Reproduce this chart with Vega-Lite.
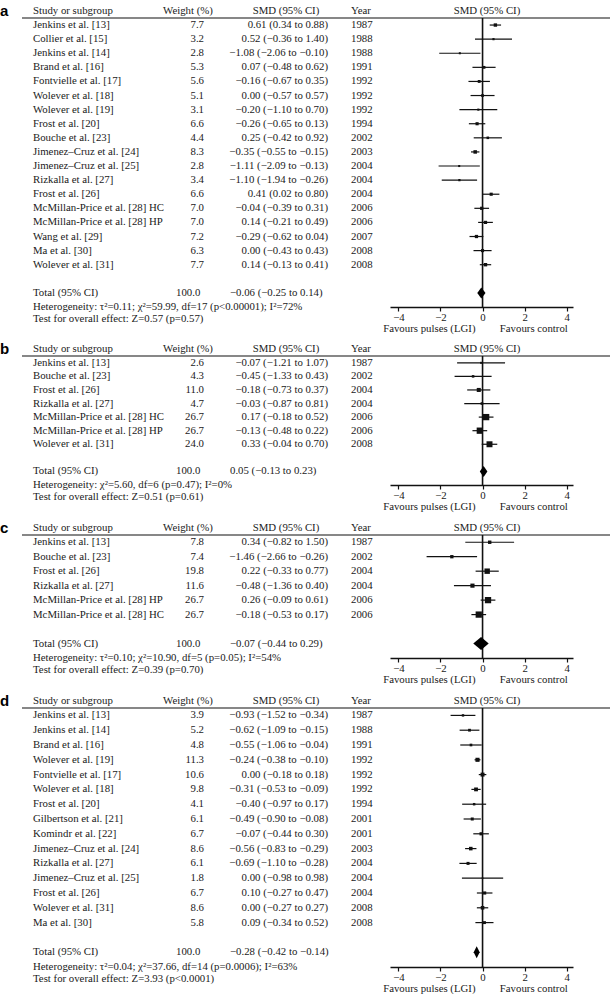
{
  "$schema": "https://vega.github.io/schema/vega-lite/v6.json",
  "background": "white",
  "padding": {"top": 3, "left": 0, "right": 0, "bottom": 0},
  "spacing": 8,
  "config": {
    "view": {"stroke": null},
    "text": {"font": "Liberation Serif", "fontSize": 10.8, "color": "#1a1a1a", "baseline": "middle"},
    "axisX": {"format": "d", "grid": false, "domainColor": "#111", "domainWidth": 1.5, "tickColor": "#111", "tickWidth": 1.2, "tickSize": 4, "labelFont": "Liberation Serif", "labelFontSize": 10.8, "labelColor": "#1a1a1a", "labelPadding": 0, "titleFont": "Liberation Serif", "titleFontSize": 10.8, "titleFontWeight": "normal", "titleColor": "#1a1a1a", "titlePadding": 1}
  },
  "resolve": {"scale": {"x": "independent", "y": "independent"}},
  "datasets": {
    "a": [
      {"r": 1, "kind": "s", "study": "Jenkins et al. [13]", "w": 7.7, "smd": 0.61, "lo": 0.34, "hi": 0.88, "ci": "0.61 (0.34 to 0.88)", "year": "1987"},
      {"r": 2, "kind": "s", "study": "Collier et al. [15]", "w": 3.2, "smd": 0.52, "lo": -0.36, "hi": 1.40, "ci": "0.52 (−0.36 to 1.40)", "year": "1988"},
      {"r": 3, "kind": "s", "study": "Jenkins et al. [14]", "w": 2.8, "smd": -1.08, "lo": -2.06, "hi": -0.10, "ci": "−1.08 (−2.06 to −0.10)", "year": "1988"},
      {"r": 4, "kind": "s", "study": "Brand et al. [16]", "w": 5.3, "smd": 0.07, "lo": -0.48, "hi": 0.62, "ci": "0.07 (−0.48 to 0.62)", "year": "1991"},
      {"r": 5, "kind": "s", "study": "Fontvielle et al. [17]", "w": 5.6, "smd": -0.16, "lo": -0.67, "hi": 0.35, "ci": "−0.16 (−0.67 to 0.35)", "year": "1992"},
      {"r": 6, "kind": "s", "study": "Wolever et al. [18]", "w": 5.1, "smd": 0.00, "lo": -0.57, "hi": 0.57, "ci": "0.00 (−0.57 to 0.57)", "year": "1992"},
      {"r": 7, "kind": "s", "study": "Wolever et al. [19]", "w": 3.1, "smd": -0.20, "lo": -1.10, "hi": 0.70, "ci": "−0.20 (−1.10 to 0.70)", "year": "1992"},
      {"r": 8, "kind": "s", "study": "Frost et al. [20]", "w": 6.6, "smd": -0.26, "lo": -0.65, "hi": 0.13, "ci": "−0.26 (−0.65 to 0.13)", "year": "1994"},
      {"r": 9, "kind": "s", "study": "Bouche et al. [23]", "w": 4.4, "smd": 0.25, "lo": -0.42, "hi": 0.92, "ci": "0.25 (−0.42 to 0.92)", "year": "2002"},
      {"r": 10, "kind": "s", "study": "Jimenez–Cruz et al. [24]", "w": 8.3, "smd": -0.35, "lo": -0.55, "hi": -0.15, "ci": "−0.35 (−0.55 to −0.15)", "year": "2003"},
      {"r": 11, "kind": "s", "study": "Jimenez–Cruz et al. [25]", "w": 2.8, "smd": -1.11, "lo": -2.09, "hi": -0.13, "ci": "−1.11 (−2.09 to −0.13)", "year": "2004"},
      {"r": 12, "kind": "s", "study": "Rizkalla et al. [27]", "w": 3.4, "smd": -1.10, "lo": -1.94, "hi": -0.26, "ci": "−1.10 (−1.94 to −0.26)", "year": "2004"},
      {"r": 13, "kind": "s", "study": "Frost et al. [26]", "w": 6.6, "smd": 0.41, "lo": 0.02, "hi": 0.80, "ci": "0.41 (0.02 to 0.80)", "year": "2004"},
      {"r": 14, "kind": "s", "study": "McMillan-Price et al. [28] HC", "w": 7.0, "smd": -0.04, "lo": -0.39, "hi": 0.31, "ci": "−0.04 (−0.39 to 0.31)", "year": "2006"},
      {"r": 15, "kind": "s", "study": "McMillan-Price et al. [28] HP", "w": 7.0, "smd": 0.14, "lo": -0.21, "hi": 0.49, "ci": "0.14 (−0.21 to 0.49)", "year": "2006"},
      {"r": 16, "kind": "s", "study": "Wang et al. [29]", "w": 7.2, "smd": -0.29, "lo": -0.62, "hi": 0.04, "ci": "−0.29 (−0.62 to 0.04)", "year": "2007"},
      {"r": 17, "kind": "s", "study": "Ma et al. [30]", "w": 6.3, "smd": 0.00, "lo": -0.43, "hi": 0.43, "ci": "0.00 (−0.43 to 0.43)", "year": "2008"},
      {"r": 18, "kind": "s", "study": "Wolever et al. [31]", "w": 7.7, "smd": 0.14, "lo": -0.13, "hi": 0.41, "ci": "0.14 (−0.13 to 0.41)", "year": "2008"},
      {"r": 20, "kind": "t", "study": "Total (95% CI)", "w": 100.0, "smd": -0.06, "lo": -0.25, "hi": 0.14, "ci": "−0.06 (−0.25 to 0.14)", "year": ""}
    ],
    "b": [
      {"r": 1, "kind": "s", "study": "Jenkins et al. [13]", "w": 2.6, "smd": -0.07, "lo": -1.21, "hi": 1.07, "ci": "−0.07 (−1.21 to 1.07)", "year": "1987"},
      {"r": 2, "kind": "s", "study": "Bouche et al. [23]", "w": 4.3, "smd": -0.45, "lo": -1.33, "hi": 0.43, "ci": "−0.45 (−1.33 to 0.43)", "year": "2002"},
      {"r": 3, "kind": "s", "study": "Frost et al. [26]", "w": 11.0, "smd": -0.18, "lo": -0.73, "hi": 0.37, "ci": "−0.18 (−0.73 to 0.37)", "year": "2004"},
      {"r": 4, "kind": "s", "study": "Rizkalla et al. [27]", "w": 4.7, "smd": -0.03, "lo": -0.87, "hi": 0.81, "ci": "−0.03 (−0.87 to 0.81)", "year": "2004"},
      {"r": 5, "kind": "s", "study": "McMillan-Price et al. [28] HC", "w": 26.7, "smd": 0.17, "lo": -0.18, "hi": 0.52, "ci": "0.17 (−0.18 to 0.52)", "year": "2006"},
      {"r": 6, "kind": "s", "study": "McMillan-Price et al. [28] HP", "w": 26.7, "smd": -0.13, "lo": -0.48, "hi": 0.22, "ci": "−0.13 (−0.48 to 0.22)", "year": "2006"},
      {"r": 7, "kind": "s", "study": "Wolever et al. [31]", "w": 24.0, "smd": 0.33, "lo": -0.04, "hi": 0.70, "ci": "0.33 (−0.04 to 0.70)", "year": "2008"},
      {"r": 9, "kind": "t", "study": "Total (95% CI)", "w": 100.0, "smd": 0.05, "lo": -0.13, "hi": 0.23, "ci": "0.05 (−0.13 to 0.23)", "year": ""}
    ],
    "c": [
      {"r": 1, "kind": "s", "study": "Jenkins et al. [13]", "w": 7.8, "smd": 0.34, "lo": -0.82, "hi": 1.50, "ci": "0.34 (−0.82 to 1.50)", "year": "1987"},
      {"r": 2, "kind": "s", "study": "Bouche et al. [23]", "w": 7.4, "smd": -1.46, "lo": -2.66, "hi": -0.26, "ci": "−1.46 (−2.66 to −0.26)", "year": "2002"},
      {"r": 3, "kind": "s", "study": "Frost et al. [26]", "w": 19.8, "smd": 0.22, "lo": -0.33, "hi": 0.77, "ci": "0.22 (−0.33 to 0.77)", "year": "2004"},
      {"r": 4, "kind": "s", "study": "Rizkalla et al. [27]", "w": 11.6, "smd": -0.48, "lo": -1.36, "hi": 0.40, "ci": "−0.48 (−1.36 to 0.40)", "year": "2004"},
      {"r": 5, "kind": "s", "study": "McMillan-Price et al. [28] HP", "w": 26.7, "smd": 0.26, "lo": -0.09, "hi": 0.61, "ci": "0.26 (−0.09 to 0.61)", "year": "2006"},
      {"r": 6, "kind": "s", "study": "McMillan-Price et al. [28] HC", "w": 26.7, "smd": -0.18, "lo": -0.53, "hi": 0.17, "ci": "−0.18 (−0.53 to 0.17)", "year": "2006"},
      {"r": 8, "kind": "t", "study": "Total (95% CI)", "w": 100.0, "smd": -0.07, "lo": -0.44, "hi": 0.29, "ci": "−0.07 (−0.44 to 0.29)", "year": ""}
    ],
    "d": [
      {"r": 1, "kind": "s", "study": "Jenkins et al. [13]", "w": 3.9, "smd": -0.93, "lo": -1.52, "hi": -0.34, "ci": "−0.93 (−1.52 to −0.34)", "year": "1987"},
      {"r": 2, "kind": "s", "study": "Jenkins et al. [14]", "w": 5.2, "smd": -0.62, "lo": -1.09, "hi": -0.15, "ci": "−0.62 (−1.09 to −0.15)", "year": "1988"},
      {"r": 3, "kind": "s", "study": "Brand et al. [16]", "w": 4.8, "smd": -0.55, "lo": -1.06, "hi": -0.04, "ci": "−0.55 (−1.06 to −0.04)", "year": "1991"},
      {"r": 4, "kind": "s", "study": "Wolever et al. [19]", "w": 11.3, "smd": -0.24, "lo": -0.38, "hi": -0.10, "ci": "−0.24 (−0.38 to −0.10)", "year": "1992"},
      {"r": 5, "kind": "s", "study": "Fontvielle et al. [17]", "w": 10.6, "smd": 0.00, "lo": -0.18, "hi": 0.18, "ci": "0.00 (−0.18 to 0.18)", "year": "1992"},
      {"r": 6, "kind": "s", "study": "Wolever et al. [18]", "w": 9.8, "smd": -0.31, "lo": -0.53, "hi": -0.09, "ci": "−0.31 (−0.53 to −0.09)", "year": "1992"},
      {"r": 7, "kind": "s", "study": "Frost et al. [20]", "w": 4.1, "smd": -0.40, "lo": -0.97, "hi": 0.17, "ci": "−0.40 (−0.97 to 0.17)", "year": "1994"},
      {"r": 8, "kind": "s", "study": "Gilbertson et al. [21]", "w": 6.1, "smd": -0.49, "lo": -0.90, "hi": -0.08, "ci": "−0.49 (−0.90 to −0.08)", "year": "2001"},
      {"r": 9, "kind": "s", "study": "Komindr et al. [22]", "w": 6.7, "smd": -0.07, "lo": -0.44, "hi": 0.30, "ci": "−0.07 (−0.44 to 0.30)", "year": "2001"},
      {"r": 10, "kind": "s", "study": "Jimenez–Cruz et al. [24]", "w": 8.6, "smd": -0.56, "lo": -0.83, "hi": -0.29, "ci": "−0.56 (−0.83 to −0.29)", "year": "2003"},
      {"r": 11, "kind": "s", "study": "Rizkalla et al. [27]", "w": 6.1, "smd": -0.69, "lo": -1.10, "hi": -0.28, "ci": "−0.69 (−1.10 to −0.28)", "year": "2004"},
      {"r": 12, "kind": "s", "study": "Jimenez–Cruz et al. [25]", "w": 1.8, "smd": 0.00, "lo": -0.98, "hi": 0.98, "ci": "0.00 (−0.98 to 0.98)", "year": "2004"},
      {"r": 13, "kind": "s", "study": "Frost et al. [26]", "w": 6.7, "smd": 0.10, "lo": -0.27, "hi": 0.47, "ci": "0.10 (−0.27 to 0.47)", "year": "2004"},
      {"r": 14, "kind": "s", "study": "Wolever et al. [31]", "w": 8.6, "smd": 0.00, "lo": -0.27, "hi": 0.27, "ci": "0.00 (−0.27 to 0.27)", "year": "2008"},
      {"r": 15, "kind": "s", "study": "Ma et al. [30]", "w": 5.8, "smd": 0.09, "lo": -0.34, "hi": 0.52, "ci": "0.09 (−0.34 to 0.52)", "year": "2008"},
      {"r": 17, "kind": "t", "study": "Total (95% CI)", "w": 100.0, "smd": -0.28, "lo": -0.42, "hi": -0.14, "ci": "−0.28 (−0.42 to −0.14)", "year": ""}
    ]
  },
  "vconcat": [
    {
      "width": 610, "height": 289,
      "data": {"name": "a"},
      "encoding": {"y": {"field": "r", "type": "quantitative", "scale": {"domain": [0.5, 21], "reverse": true, "nice": false, "zero": false}, "axis": null}},
      "layer": [
        {"transform": [{"filter": "datum.kind === 't'"}], "mark": {"type": "text", "align": "left", "font": "Liberation Sans", "fontWeight": "bold", "fontSize": 15, "color": "#000"}, "encoding": {"x": {"value": 0}, "y": {"datum": 0}, "text": {"value": "a"}}},
        {"transform": [{"filter": "datum.kind === 't'"}], "mark": {"type": "text", "align": "left"}, "encoding": {"x": {"value": 33}, "y": {"datum": 0}, "text": {"value": "Study or subgroup"}}},
        {"transform": [{"filter": "datum.kind === 't'"}], "mark": {"type": "text", "align": "center"}, "encoding": {"x": {"value": 188}, "y": {"datum": 0}, "text": {"value": "Weight (%)"}}},
        {"transform": [{"filter": "datum.kind === 't'"}], "mark": {"type": "text", "align": "center"}, "encoding": {"x": {"value": 286}, "y": {"datum": 0}, "text": {"value": "SMD (95% CI)"}}},
        {"transform": [{"filter": "datum.kind === 't'"}], "mark": {"type": "text", "align": "left"}, "encoding": {"x": {"value": 351}, "y": {"datum": 0}, "text": {"value": "Year"}}},
        {"transform": [{"filter": "datum.kind === 't'"}], "mark": {"type": "text", "align": "center"}, "encoding": {"x": {"value": 487}, "y": {"datum": 0}, "text": {"value": "SMD (95% CI)"}}},
        {"transform": [{"filter": "datum.kind === 't'"}], "mark": {"type": "rule", "strokeWidth": 1.2, "color": "#111"}, "encoding": {"x": {"value": 22}, "x2": {"value": 610}, "y": {"datum": 0.5}}},
        {"mark": {"type": "text", "align": "left"}, "encoding": {"x": {"value": 33}, "text": {"field": "study"}}},
        {"transform": [{"filter": "datum.kind === 's'"}], "mark": {"type": "text", "align": "right"}, "encoding": {"x": {"value": 204}, "text": {"field": "w", "type": "quantitative", "format": ".1f"}}},
        {"transform": [{"filter": "datum.kind === 't'"}], "mark": {"type": "text", "align": "left"}, "encoding": {"x": {"value": 176}, "text": {"field": "w", "type": "quantitative", "format": ".1f"}}},
        {"transform": [{"filter": "datum.kind === 's'"}], "mark": {"type": "text", "align": "right"}, "encoding": {"x": {"value": 328}, "text": {"field": "ci"}}},
        {"transform": [{"filter": "datum.kind === 't'"}], "mark": {"type": "text", "align": "left"}, "encoding": {"x": {"value": 230}, "text": {"field": "ci"}}},
        {"transform": [{"filter": "datum.kind === 's'"}], "mark": {"type": "text", "align": "left"}, "encoding": {"x": {"value": 351}, "text": {"field": "year", "type": "nominal"}}},
        {"transform": [{"filter": "datum.kind === 't'"}], "mark": {"type": "text", "align": "left"}, "encoding": {"x": {"value": 33}, "y": {"datum": 21}, "text": {"value": "Heterogeneity: τ²=0.11; χ²=59.99, df=17 (p<0.00001); I²=72%"}}},
        {"transform": [{"filter": "datum.kind === 't'"}], "mark": {"type": "text", "align": "left"}, "encoding": {"x": {"value": 33}, "y": {"datum": 21.87}, "text": {"value": "Test for overall effect: Z=0.57 (p=0.57)"}}},
        {"transform": [{"filter": "datum.kind === 's'"}], "mark": {"type": "rule", "strokeWidth": 1.2, "color": "#111"}, "encoding": {"x": {"field": "lo", "type": "quantitative", "scale": {"domain": [-4.4, 4.3], "range": [390, 573], "nice": false, "zero": false}, "axis": {"orient": "bottom", "values": [-4, -2, 0, 2, 4], "title": "Favours pulses (LGI)\u00a0\u00a0\u00a0\u00a0\u00a0\u00a0\u00a0\u00a0\u00a0Favours control", "titleX": 475}}, "x2": {"field": "hi"}}},
        {"transform": [{"filter": "datum.kind === 't'"}], "mark": {"type": "rule", "strokeWidth": 1.6, "color": "#111"}, "encoding": {"x": {"datum": 0, "type": "quantitative"}, "y": {"datum": 0.5}, "y2": {"datum": 21}}},
        {"transform": [{"filter": "datum.kind === 's'"}], "mark": {"type": "point", "shape": "square", "filled": true, "opacity": 1, "color": "#111"}, "encoding": {"x": {"field": "smd", "type": "quantitative"}, "size": {"field": "w", "type": "quantitative", "scale": {"domain": [0, 27], "range": [0, 40]}, "legend": null}}},
        {"transform": [{"filter": "datum.kind === 't'"}], "mark": {"type": "point", "shape": "M-0.73,0L0,-1L0.77,0L0,1Z", "size": 121, "filled": true, "opacity": 1, "color": "#000"}, "encoding": {"x": {"field": "smd", "type": "quantitative"}}}
      ]
    },
    {
      "width": 610, "height": 129,
      "data": {"name": "b"},
      "encoding": {"y": {"field": "r", "type": "quantitative", "scale": {"domain": [0.5, 10], "reverse": true, "nice": false, "zero": false}, "axis": null}},
      "layer": [
        {"transform": [{"filter": "datum.kind === 't'"}], "mark": {"type": "text", "align": "left", "font": "Liberation Sans", "fontWeight": "bold", "fontSize": 15, "color": "#000"}, "encoding": {"x": {"value": 0}, "y": {"datum": 0}, "text": {"value": "b"}}},
        {"transform": [{"filter": "datum.kind === 't'"}], "mark": {"type": "text", "align": "left"}, "encoding": {"x": {"value": 33}, "y": {"datum": 0}, "text": {"value": "Study or subgroup"}}},
        {"transform": [{"filter": "datum.kind === 't'"}], "mark": {"type": "text", "align": "center"}, "encoding": {"x": {"value": 188}, "y": {"datum": 0}, "text": {"value": "Weight (%)"}}},
        {"transform": [{"filter": "datum.kind === 't'"}], "mark": {"type": "text", "align": "center"}, "encoding": {"x": {"value": 286}, "y": {"datum": 0}, "text": {"value": "SMD (95% CI)"}}},
        {"transform": [{"filter": "datum.kind === 't'"}], "mark": {"type": "text", "align": "left"}, "encoding": {"x": {"value": 351}, "y": {"datum": 0}, "text": {"value": "Year"}}},
        {"transform": [{"filter": "datum.kind === 't'"}], "mark": {"type": "text", "align": "center"}, "encoding": {"x": {"value": 487}, "y": {"datum": 0}, "text": {"value": "SMD (95% CI)"}}},
        {"transform": [{"filter": "datum.kind === 't'"}], "mark": {"type": "rule", "strokeWidth": 1.2, "color": "#111"}, "encoding": {"x": {"value": 22}, "x2": {"value": 610}, "y": {"datum": 0.5}}},
        {"mark": {"type": "text", "align": "left"}, "encoding": {"x": {"value": 33}, "text": {"field": "study"}}},
        {"transform": [{"filter": "datum.kind === 's'"}], "mark": {"type": "text", "align": "right"}, "encoding": {"x": {"value": 204}, "text": {"field": "w", "type": "quantitative", "format": ".1f"}}},
        {"transform": [{"filter": "datum.kind === 't'"}], "mark": {"type": "text", "align": "left"}, "encoding": {"x": {"value": 176}, "text": {"field": "w", "type": "quantitative", "format": ".1f"}}},
        {"transform": [{"filter": "datum.kind === 's'"}], "mark": {"type": "text", "align": "right"}, "encoding": {"x": {"value": 328}, "text": {"field": "ci"}}},
        {"transform": [{"filter": "datum.kind === 't'"}], "mark": {"type": "text", "align": "left"}, "encoding": {"x": {"value": 230}, "text": {"field": "ci"}}},
        {"transform": [{"filter": "datum.kind === 's'"}], "mark": {"type": "text", "align": "left"}, "encoding": {"x": {"value": 351}, "text": {"field": "year", "type": "nominal"}}},
        {"transform": [{"filter": "datum.kind === 't'"}], "mark": {"type": "text", "align": "left"}, "encoding": {"x": {"value": 33}, "y": {"datum": 10}, "text": {"value": "Heterogeneity: χ²=5.60, df=6 (p=0.47); I²=0%"}}},
        {"transform": [{"filter": "datum.kind === 't'"}], "mark": {"type": "text", "align": "left"}, "encoding": {"x": {"value": 33}, "y": {"datum": 10.92}, "text": {"value": "Test for overall effect: Z=0.51 (p=0.61)"}}},
        {"transform": [{"filter": "datum.kind === 's'"}], "mark": {"type": "rule", "strokeWidth": 1.2, "color": "#111"}, "encoding": {"x": {"field": "lo", "type": "quantitative", "scale": {"domain": [-4.4, 4.3], "range": [390, 573], "nice": false, "zero": false}, "axis": {"orient": "bottom", "values": [-4, -2, 0, 2, 4], "title": "Favours pulses (LGI)\u00a0\u00a0\u00a0\u00a0\u00a0\u00a0\u00a0\u00a0\u00a0Favours control", "titleX": 475}}, "x2": {"field": "hi"}}},
        {"transform": [{"filter": "datum.kind === 't'"}], "mark": {"type": "rule", "strokeWidth": 1.6, "color": "#111"}, "encoding": {"x": {"datum": 0, "type": "quantitative"}, "y": {"datum": 0.5}, "y2": {"datum": 10}}},
        {"transform": [{"filter": "datum.kind === 's'"}], "mark": {"type": "point", "shape": "square", "filled": true, "opacity": 1, "color": "#111"}, "encoding": {"x": {"field": "smd", "type": "quantitative"}, "size": {"field": "w", "type": "quantitative", "scale": {"domain": [0, 27], "range": [0, 40]}, "legend": null}}},
        {"transform": [{"filter": "datum.kind === 't'"}], "mark": {"type": "point", "shape": "M-0.69,0L0,-1L0.69,0L0,1Z", "size": 121, "filled": true, "opacity": 1, "color": "#000"}, "encoding": {"x": {"field": "smd", "type": "quantitative"}}}
      ]
    },
    {
      "width": 610, "height": 123,
      "data": {"name": "c"},
      "encoding": {"y": {"field": "r", "type": "quantitative", "scale": {"domain": [0.5, 9], "reverse": true, "nice": false, "zero": false}, "axis": null}},
      "layer": [
        {"transform": [{"filter": "datum.kind === 't'"}], "mark": {"type": "text", "align": "left", "font": "Liberation Sans", "fontWeight": "bold", "fontSize": 15, "color": "#000"}, "encoding": {"x": {"value": 0}, "y": {"datum": 0}, "text": {"value": "c"}}},
        {"transform": [{"filter": "datum.kind === 't'"}], "mark": {"type": "text", "align": "left"}, "encoding": {"x": {"value": 33}, "y": {"datum": 0}, "text": {"value": "Study or subgroup"}}},
        {"transform": [{"filter": "datum.kind === 't'"}], "mark": {"type": "text", "align": "center"}, "encoding": {"x": {"value": 188}, "y": {"datum": 0}, "text": {"value": "Weight (%)"}}},
        {"transform": [{"filter": "datum.kind === 't'"}], "mark": {"type": "text", "align": "center"}, "encoding": {"x": {"value": 286}, "y": {"datum": 0}, "text": {"value": "SMD (95% CI)"}}},
        {"transform": [{"filter": "datum.kind === 't'"}], "mark": {"type": "text", "align": "left"}, "encoding": {"x": {"value": 351}, "y": {"datum": 0}, "text": {"value": "Year"}}},
        {"transform": [{"filter": "datum.kind === 't'"}], "mark": {"type": "text", "align": "center"}, "encoding": {"x": {"value": 487}, "y": {"datum": 0}, "text": {"value": "SMD (95% CI)"}}},
        {"transform": [{"filter": "datum.kind === 't'"}], "mark": {"type": "rule", "strokeWidth": 1.2, "color": "#111"}, "encoding": {"x": {"value": 22}, "x2": {"value": 610}, "y": {"datum": 0.5}}},
        {"mark": {"type": "text", "align": "left"}, "encoding": {"x": {"value": 33}, "text": {"field": "study"}}},
        {"transform": [{"filter": "datum.kind === 's'"}], "mark": {"type": "text", "align": "right"}, "encoding": {"x": {"value": 204}, "text": {"field": "w", "type": "quantitative", "format": ".1f"}}},
        {"transform": [{"filter": "datum.kind === 't'"}], "mark": {"type": "text", "align": "left"}, "encoding": {"x": {"value": 176}, "text": {"field": "w", "type": "quantitative", "format": ".1f"}}},
        {"transform": [{"filter": "datum.kind === 's'"}], "mark": {"type": "text", "align": "right"}, "encoding": {"x": {"value": 328}, "text": {"field": "ci"}}},
        {"transform": [{"filter": "datum.kind === 't'"}], "mark": {"type": "text", "align": "left"}, "encoding": {"x": {"value": 230}, "text": {"field": "ci"}}},
        {"transform": [{"filter": "datum.kind === 's'"}], "mark": {"type": "text", "align": "left"}, "encoding": {"x": {"value": 351}, "text": {"field": "year", "type": "nominal"}}},
        {"transform": [{"filter": "datum.kind === 't'"}], "mark": {"type": "text", "align": "left"}, "encoding": {"x": {"value": 33}, "y": {"datum": 9}, "text": {"value": "Heterogeneity: τ²=0.10; χ²=10.90, df=5 (p=0.05); I²=54%"}}},
        {"transform": [{"filter": "datum.kind === 't'"}], "mark": {"type": "text", "align": "left"}, "encoding": {"x": {"value": 33}, "y": {"datum": 9.86}, "text": {"value": "Test for overall effect: Z=0.39 (p=0.70)"}}},
        {"transform": [{"filter": "datum.kind === 's'"}], "mark": {"type": "rule", "strokeWidth": 1.2, "color": "#111"}, "encoding": {"x": {"field": "lo", "type": "quantitative", "scale": {"domain": [-4.4, 4.3], "range": [390, 573], "nice": false, "zero": false}, "axis": {"orient": "bottom", "values": [-4, -2, 0, 2, 4], "title": "Favours pulses (LGI)\u00a0\u00a0\u00a0\u00a0\u00a0\u00a0\u00a0\u00a0\u00a0Favours control", "titleX": 475}}, "x2": {"field": "hi"}}},
        {"transform": [{"filter": "datum.kind === 't'"}], "mark": {"type": "rule", "strokeWidth": 1.6, "color": "#111"}, "encoding": {"x": {"datum": 0, "type": "quantitative"}, "y": {"datum": 0.5}, "y2": {"datum": 9}}},
        {"transform": [{"filter": "datum.kind === 's'"}], "mark": {"type": "point", "shape": "square", "filled": true, "opacity": 1, "color": "#111"}, "encoding": {"x": {"field": "smd", "type": "quantitative"}, "size": {"field": "w", "type": "quantitative", "scale": {"domain": [0, 27], "range": [0, 40]}, "legend": null}}},
        {"transform": [{"filter": "datum.kind === 't'"}], "mark": {"type": "point", "shape": "M-1.2,0L0,-1L1.17,0L0,1Z", "size": 169, "filled": true, "opacity": 1, "color": "#000"}, "encoding": {"x": {"field": "smd", "type": "quantitative"}}}
      ]
    },
    {
      "width": 610, "height": 259,
      "data": {"name": "d"},
      "encoding": {"y": {"field": "r", "type": "quantitative", "scale": {"domain": [0.5, 18], "reverse": true, "nice": false, "zero": false}, "axis": null}},
      "layer": [
        {"transform": [{"filter": "datum.kind === 't'"}], "mark": {"type": "text", "align": "left", "font": "Liberation Sans", "fontWeight": "bold", "fontSize": 15, "color": "#000"}, "encoding": {"x": {"value": 0}, "y": {"datum": 0}, "text": {"value": "d"}}},
        {"transform": [{"filter": "datum.kind === 't'"}], "mark": {"type": "text", "align": "left"}, "encoding": {"x": {"value": 33}, "y": {"datum": 0}, "text": {"value": "Study or subgroup"}}},
        {"transform": [{"filter": "datum.kind === 't'"}], "mark": {"type": "text", "align": "center"}, "encoding": {"x": {"value": 188}, "y": {"datum": 0}, "text": {"value": "Weight (%)"}}},
        {"transform": [{"filter": "datum.kind === 't'"}], "mark": {"type": "text", "align": "center"}, "encoding": {"x": {"value": 286}, "y": {"datum": 0}, "text": {"value": "SMD (95% CI)"}}},
        {"transform": [{"filter": "datum.kind === 't'"}], "mark": {"type": "text", "align": "left"}, "encoding": {"x": {"value": 351}, "y": {"datum": 0}, "text": {"value": "Year"}}},
        {"transform": [{"filter": "datum.kind === 't'"}], "mark": {"type": "text", "align": "center"}, "encoding": {"x": {"value": 487}, "y": {"datum": 0}, "text": {"value": "SMD (95% CI)"}}},
        {"transform": [{"filter": "datum.kind === 't'"}], "mark": {"type": "rule", "strokeWidth": 1.2, "color": "#111"}, "encoding": {"x": {"value": 22}, "x2": {"value": 610}, "y": {"datum": 0.5}}},
        {"mark": {"type": "text", "align": "left"}, "encoding": {"x": {"value": 33}, "text": {"field": "study"}}},
        {"transform": [{"filter": "datum.kind === 's'"}], "mark": {"type": "text", "align": "right"}, "encoding": {"x": {"value": 204}, "text": {"field": "w", "type": "quantitative", "format": ".1f"}}},
        {"transform": [{"filter": "datum.kind === 't'"}], "mark": {"type": "text", "align": "left"}, "encoding": {"x": {"value": 176}, "text": {"field": "w", "type": "quantitative", "format": ".1f"}}},
        {"transform": [{"filter": "datum.kind === 's'"}], "mark": {"type": "text", "align": "right"}, "encoding": {"x": {"value": 328}, "text": {"field": "ci"}}},
        {"transform": [{"filter": "datum.kind === 't'"}], "mark": {"type": "text", "align": "left"}, "encoding": {"x": {"value": 230}, "text": {"field": "ci"}}},
        {"transform": [{"filter": "datum.kind === 's'"}], "mark": {"type": "text", "align": "left"}, "encoding": {"x": {"value": 351}, "text": {"field": "year", "type": "nominal"}}},
        {"transform": [{"filter": "datum.kind === 't'"}], "mark": {"type": "text", "align": "left"}, "encoding": {"x": {"value": 33}, "y": {"datum": 18}, "text": {"value": "Heterogeneity: τ²=0.04; χ²=37.66, df=14 (p=0.0006); I²=63%"}}},
        {"transform": [{"filter": "datum.kind === 't'"}], "mark": {"type": "text", "align": "left"}, "encoding": {"x": {"value": 33}, "y": {"datum": 18.83}, "text": {"value": "Test for overall effect: Z=3.93 (p<0.0001)"}}},
        {"transform": [{"filter": "datum.kind === 's'"}], "mark": {"type": "rule", "strokeWidth": 1.2, "color": "#111"}, "encoding": {"x": {"field": "lo", "type": "quantitative", "scale": {"domain": [-4.4, 4.3], "range": [390, 573], "nice": false, "zero": false}, "axis": {"orient": "bottom", "values": [-4, -2, 0, 2, 4], "title": "Favours pulses (LGI)\u00a0\u00a0\u00a0\u00a0\u00a0\u00a0\u00a0\u00a0\u00a0Favours control", "titleX": 475}}, "x2": {"field": "hi"}}},
        {"transform": [{"filter": "datum.kind === 't'"}], "mark": {"type": "rule", "strokeWidth": 1.6, "color": "#111"}, "encoding": {"x": {"datum": 0, "type": "quantitative"}, "y": {"datum": 0.5}, "y2": {"datum": 18}}},
        {"transform": [{"filter": "datum.kind === 's'"}], "mark": {"type": "point", "shape": "square", "filled": true, "opacity": 1, "color": "#111"}, "encoding": {"x": {"field": "smd", "type": "quantitative"}, "size": {"field": "w", "type": "quantitative", "scale": {"domain": [0, 27], "range": [0, 40]}, "legend": null}}},
        {"transform": [{"filter": "datum.kind === 't'"}], "mark": {"type": "point", "shape": "M-0.5,0L0,-1L0.5,0L0,1Z", "size": 144, "filled": true, "opacity": 1, "color": "#000"}, "encoding": {"x": {"field": "smd", "type": "quantitative"}}}
      ]
    }
  ]
}
